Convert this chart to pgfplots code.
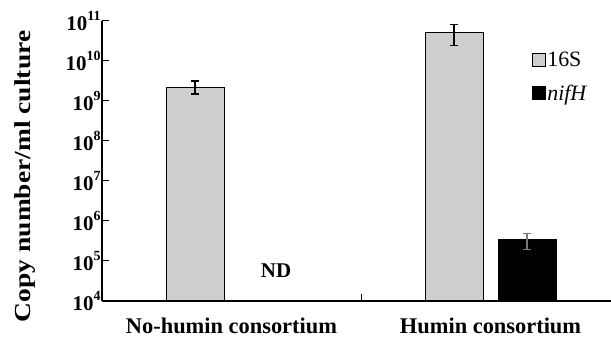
\documentclass[border=0pt]{standalone}
\usepackage{pgfplots}
\pgfplotsset{compat=1.18}
\usepackage{fontspec}
\setmainfont{Liberation Serif}
\usepackage{graphicx}
\definecolor{lg}{RGB}{206,206,206}
\definecolor{eg}{RGB}{120,120,120}
\newcommand\Tl[1]{\textbf{10}\raisebox{0.45em}{\fontsize{14}{14}\selectfont\textbf{#1}}}
\begin{document}
\begin{tikzpicture}
\begin{axis}[
  scale only axis, width=509bp, height=280bp,
  xmin=-0.5, xmax=1.465,
  ymode=log, ymin=1e4, ymax=1e11, log origin=infty,
  ybar=15bp, bar width=58bp,
  axis x line*=bottom, axis y line*=left,
  axis line style={black, line width=1.2bp, -},
  tick align=inside, major tick length=7bp,
  tick style={black, line width=1bp},
  yminorticks=false,
  ytick={1e4,1e5,1e6,1e7,1e8,1e9,1e10,1e11},
  yticklabels={{\Tl{4}},{\Tl{5}},{\Tl{6}},{\Tl{7}},{\Tl{8}},{\Tl{9}},{\Tl{10}},{\Tl{11}}},
  yticklabel style={font=\fontsize{21}{24}\selectfont, anchor=east, xshift=2bp},
  xtick={0.5}, xticklabels={},
  extra x ticks={0,1},
  extra x tick labels={No-humin consortium, Humin consortium},
  extra x tick style={major tick length=0pt, xticklabel style={font=\bfseries\fontsize{22.5}{26}\selectfont, yshift=-13bp}},
  ylabel={\scalebox{1.2}[1]{Copy number/ml culture}},
  ylabel style={font=\bfseries\fontsize{23}{27}\selectfont, at={(axis description cs:-0.151,0.445)}, anchor=center},
  legend image code/.code={\draw[#1] (0bp,-6.5bp) rectangle (13bp,6.5bp);},
  legend style={draw=none, fill=none, at={(rel axis cs:0.845,0.895)}, anchor=north west,
    inner sep=0pt, row sep=15bp, nodes={inner sep=1bp},
    font=\fontsize{22}{26}\selectfont, legend cell align=left,
    /tikz/every even column/.append style={column sep=6bp}},
]
\coordinate (sw) at (rel axis cs:0,0);
\addplot[fill=lg, draw=black, line width=1bp,
  error bars/.cd, y dir=both, y explicit,
  error bar style={black, line width=1.2bp},
  error mark options={rotate=90, mark size=4bp, line width=1.2bp, black}]
  coordinates {(0,2.2e9) += (0,0.96e9) -= (0,0.7e9)
               (1,5.1e10) += (0,3.0e10) -= (0,2.7e10)};
\addlegendentry{16S}
\addplot[fill=black, draw=black, line width=1bp,
  error bars/.cd, y dir=both, y explicit,
  error bar style={eg, line width=1.2bp},
  error mark options={rotate=90, mark size=4bp, line width=1.2bp, eg}]
  coordinates {(1,3.5e5) += (0,1.4e5) -= (0,1.6e5)};
\addlegendentry{\textit{nifH}}
\node[font=\bfseries\fontsize{21}{24}\selectfont] at (axis cs:0.172,5.6e4) {ND};
\end{axis}
\pgfresetboundingbox
\path ([shift={(-102bp,-39bp)}]sw) rectangle ([shift={(509bp,301bp)}]sw);
\end{tikzpicture}
\end{document}
